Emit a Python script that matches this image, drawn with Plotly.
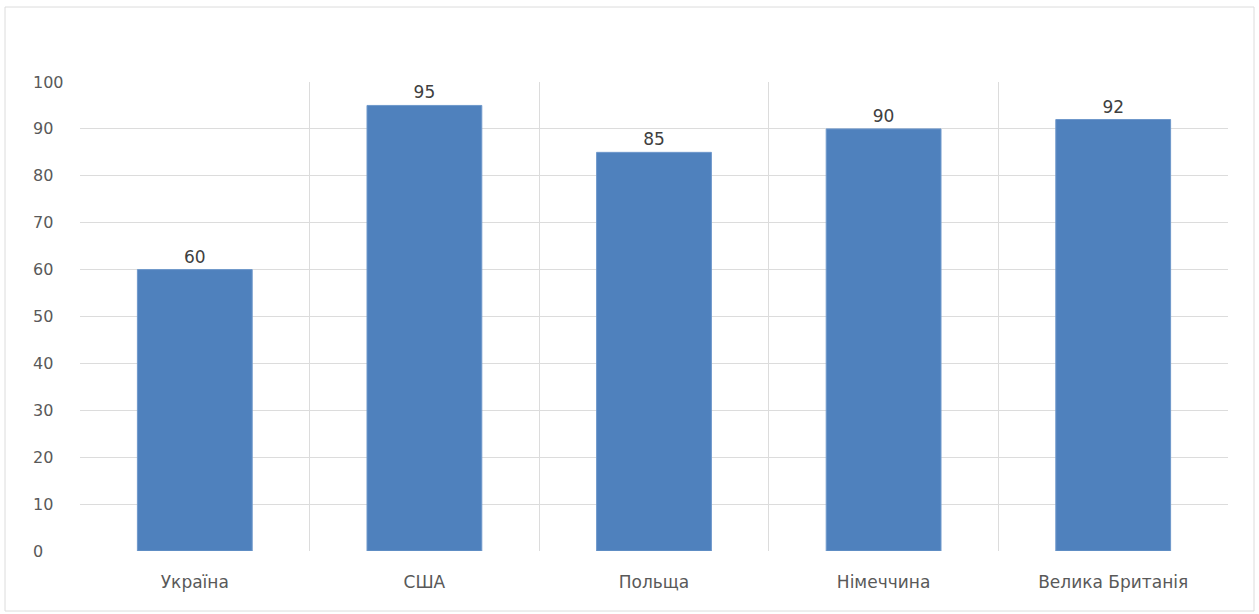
import plotly.graph_objects as go

# Chart data
countries = ["Україна", "США", "Польща", "Німеччина", "Велика Британія"]
scores = [60, 95, 85, 90, 92]
y_ticks = [0, 10, 20, 30, 40, 50, 60, 70, 80, 90, 100]

BAR_COLOR = "#4F81BD"
TEXT_COLOR = "#595959"
GRID_COLOR = "#DCDCDC"
FONT = "DejaVu Sans"

W, H = 1259, 614
M_L, M_R, M_T, M_B = 80, 31, 82, 63
plot_w = W - M_L - M_R
plot_h = H - M_T - M_B

fig = go.Figure()
fig.add_trace(go.Bar(
    x=countries,
    y=scores,
    width=0.5,
    marker=dict(color=BAR_COLOR, line=dict(color="#6E98CB", width=1)),
    text=[str(v) for v in scores],
    textposition="outside",
    cliponaxis=False,
    textfont=dict(family=FONT, size=17, color="#404040"),
    hoverinfo="x+y",
))

# Vertical separators between categories on an overlaid linear axis
fig.add_trace(go.Scatter(x=[None], y=[None], xaxis="x2", showlegend=False))

# Left-aligned value-axis labels
annotations = [
    dict(x=0, y=v, xref="paper", yref="y", text=str(v), showarrow=False,
         xanchor="left", yanchor="middle", xshift=-49,
         font=dict(family=FONT, size=16, color=TEXT_COLOR))
    for v in y_ticks
]

# Outer chart border
bx0 = (5 - M_L) / plot_w
bx1 = (1254 - M_L) / plot_w
by1 = (M_T + plot_h - 7) / plot_h
by0 = (M_T + plot_h - 611) / plot_h

fig.update_layout(
    width=W, height=H,
    margin=dict(l=M_L, r=M_R, t=M_T, b=M_B),
    paper_bgcolor="white", plot_bgcolor="white",
    showlegend=False,
    bargap=0.5,
    font=dict(family=FONT, size=16, color=TEXT_COLOR),
    xaxis=dict(
        type="category", showgrid=False, zeroline=False, showline=False,
        ticks="outside", ticklen=16, tickcolor="rgba(0,0,0,0)",
        tickfont=dict(family=FONT, size=17, color=TEXT_COLOR),
    ),
    xaxis2=dict(
        overlaying="x", range=[-0.5, 4.5], tickvals=[0.5, 1.5, 2.5, 3.5],
        showticklabels=False, showgrid=True, gridcolor=GRID_COLOR, gridwidth=1,
        zeroline=False, showline=False,
    ),
    yaxis=dict(
        range=[0, 100], tickvals=y_ticks, showticklabels=False,
        showgrid=True, gridcolor=GRID_COLOR, gridwidth=1,
        zeroline=False, showline=False, fixedrange=True,
    ),
    annotations=annotations,
    shapes=[dict(type="rect", xref="paper", yref="paper",
                 x0=bx0, x1=bx1, y0=by0, y1=by1,
                 line=dict(color=GRID_COLOR, width=1), layer="below")],
)

fig.write_html("out.html")
